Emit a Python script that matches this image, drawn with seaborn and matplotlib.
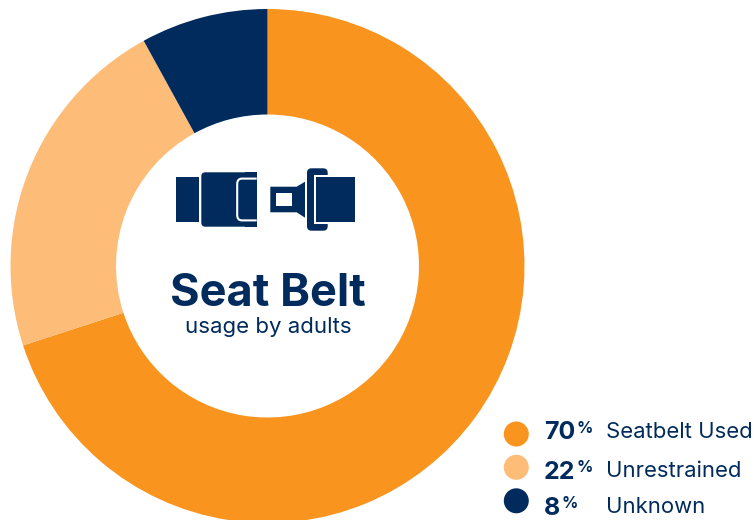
import matplotlib
matplotlib.use("Agg")
import matplotlib.pyplot as plt
from matplotlib.patches import Circle, FancyBboxPatch, Polygon, Rectangle, PathPatch
from matplotlib.path import Path
import seaborn as sns

categories = ["Seatbelt Used", "Unrestrained", "Unknown"]
shares = [70, 22, 8]
colours = ["#F9951F", "#FDBC78", "#002B5C"]
title = "Seat Belt"
subtitle = "usage by adults"

sns.set_theme(style="white")
plt.rcParams["font.family"] = ["Inter", "DejaVu Sans"]
palette = sns.color_palette(colours)
navy = palette[2]

W, H = 755, 520
fig = plt.figure(figsize=(W / 100, H / 100), dpi=100, facecolor="white")
ax = fig.add_axes([0, 0, 1, 1])


def Y(y):
    """Convert a distance from the top edge into the axes' upward y."""
    return H - y


# Donut
ax.pie(shares, colors=palette, startangle=90, counterclock=False,
       radius=257, center=(267.5, Y(266)),
       wedgeprops=dict(width=105.5, linewidth=0))
ax.set_xlim(0, W)
ax.set_ylim(0, H)
ax.set_aspect("equal")
ax.axis("off")


def box(x0, y0, x1, y1, color=navy, z=3):
    ax.add_patch(Rectangle((x0, Y(y1)), x1 - x0, y1 - y0, fc=color, ec="none", zorder=z))


def rounded(x0, y0, x1, y1, r, color=navy, z=3):
    ax.add_patch(FancyBboxPatch((x0 + r, Y(y1) + r), x1 - x0 - 2 * r, y1 - y0 - 2 * r,
                                boxstyle=f"round,pad={r},rounding_size={r}",
                                fc=color, ec="none", zorder=z))


# Buckle icon, left half
box(176, 177, 199.3, 221.7)
rounded(201.3, 172.3, 256.7, 226.7, 4)
box(245, 172.3, 256.7, 226.7)
slot = Path([(256.7, Y(178.6)), (242, Y(178.6)), (237.2, Y(178.6)), (237.2, Y(184)),
             (237.2, Y(215)), (237.2, Y(220.4)), (242, Y(220.4)), (256.7, Y(220.4))],
            [Path.MOVETO, Path.LINETO, Path.CURVE3, Path.CURVE3,
             Path.LINETO, Path.CURVE3, Path.CURVE3, Path.LINETO])
ax.add_patch(PathPatch(slot, fc="none", ec="white", lw=1.5, zorder=4, capstyle="butt"))

# Buckle icon, right half
tongue = [(270.3, 186.7), (296.7, 186.7), (305, 181.7), (305, 217.7), (296.7, 212.3), (270.3, 212.3)]
ax.add_patch(Polygon([(x, Y(y)) for x, y in tongue], closed=True, fc=navy, ec="none", zorder=3))
box(276.3, 193.3, 292.3, 206, color="white", z=4)
rounded(307, 168.3, 327.7, 230.7, 4.5)
box(314, 175, 330, 224, color="white", z=4)
box(316, 177, 355, 221.7, z=5)

# Centre caption
ax.text(268, Y(306.5), title, ha="center", va="baseline", fontsize=32.5,
        fontweight="bold", color=navy, zorder=6)
ax.text(268, Y(333), subtitle, ha="center", va="baseline", fontsize=16,
        color=navy, zorder=6)

# Legend rows
circle_y = [434, 467.3, 500.8]
value_base = [439.3, 479, 515]
percent_base = [433.3, 471.7, 507.7]
label_base = [437.7, 476.7, 513.3]
value_x = 544
rows = zip(categories, shares, palette, circle_y, value_base, percent_base, label_base)
for label, share, colour, cy, vb, pb, lb in rows:
    ax.add_patch(Circle((516.3, Y(cy)), 12.5, fc=colour, ec="none", zorder=6))
    value = ax.text(value_x, Y(vb), str(share), ha="left", va="baseline",
                    fontsize=18, fontweight="bold", color=navy, zorder=6)
    fig.canvas.draw()
    x_end = value.get_window_extent().x1
    ax.text(x_end + 1, Y(pb), "%", ha="left", va="baseline", fontsize=11.5,
            fontweight="bold", color=navy, zorder=6)
    ax.text(606, Y(lb), label, ha="left", va="baseline", fontsize=15.9,
            color=navy, zorder=6)

fig.savefig("out.png", dpi=100, facecolor="white")
